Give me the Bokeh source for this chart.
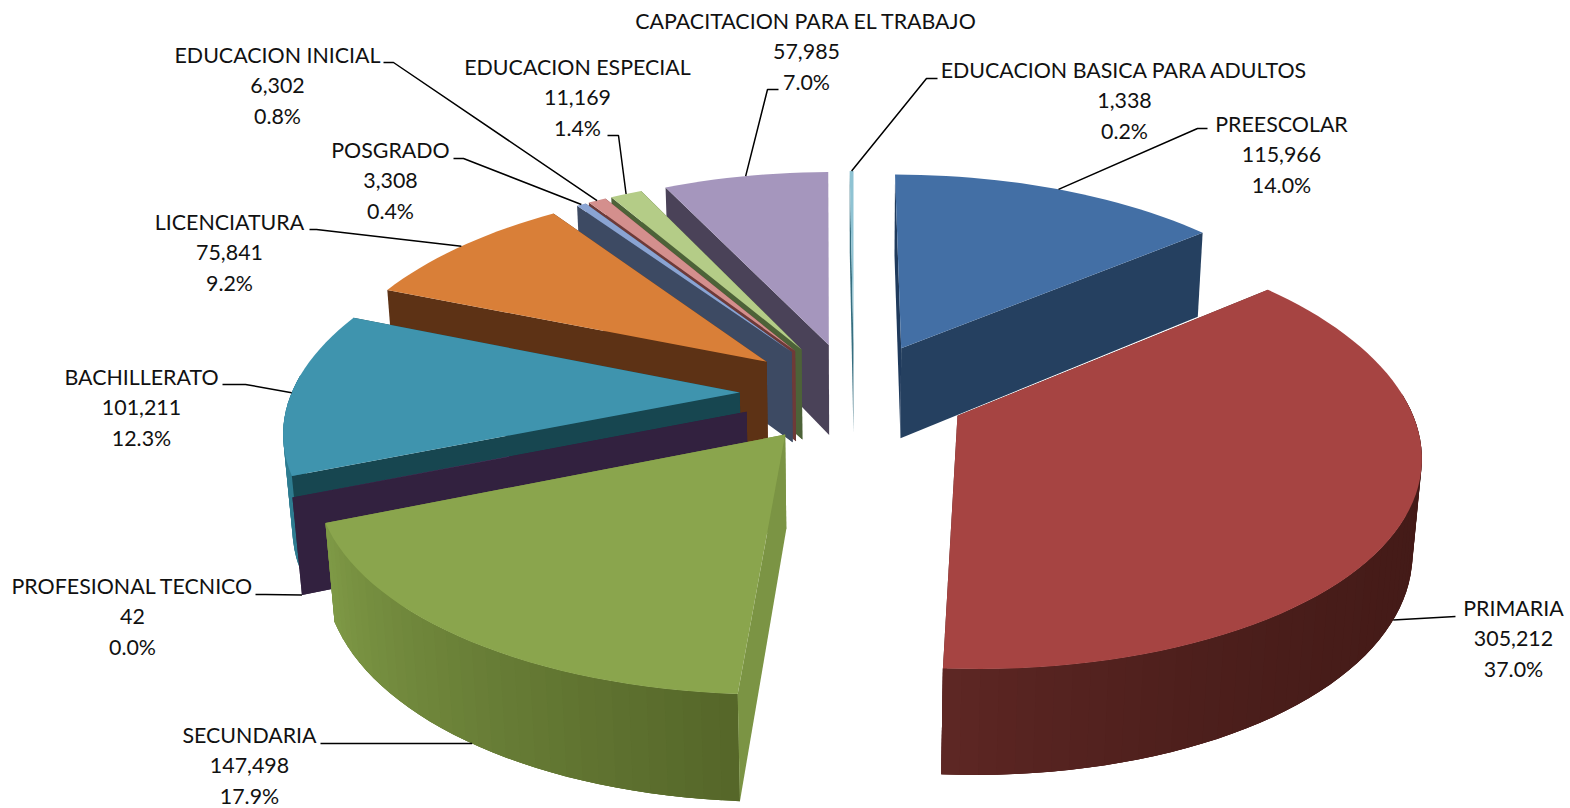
import numpy as np
from bokeh.plotting import figure
from bokeh.models import Range1d, ColumnDataSource
from bokeh.core.properties import value
from bokeh.embed import file_html
from bokeh.resources import INLINE

# ---- data ----
categories = ["PREESCOLAR", "PRIMARIA", "SECUNDARIA", "PROFESIONAL TECNICO", "BACHILLERATO",
              "LICENCIATURA", "POSGRADO", "EDUCACION INICIAL", "EDUCACION ESPECIAL",
              "CAPACITACION PARA EL TRABAJO", "EDUCACION BASICA PARA ADULTOS"]
values = [115966, 305212, 147498, 42, 101211, 75841, 3308, 6302, 11169, 57985, 1338]

# ---- styles ----
top_colors = ["#436FA5", "#A64442", "#8AA54D", "#6B5488", "#3F94AE", "#D97F38",
              "#8AA4D3", "#D48F8D", "#B4CC87", "#A596BD", "#8FC3D3"]
start_wall = ["#1F3A5C", "#5B2523", "#7B9444", "#32213F", "#174650", "#5D3215",
              "#3D4A63", "#6E3A38", "#4D6238", "#4A4258", "#366F80"]
end_wall = ["#254060", "#5B2523", "#7B9444", "#32213F", "#174650", "#5D3215",
            "#3D4A63", "#6E3A38", "#4D6238", "#4A4258", "#366F80"]
arc_start = ["#254060", "#431A17", "#556629", "#32213F", "#2E7C90", "#A85F28",
             "#3D4A63", "#6E3A38", "#4D6238", "#4A4258", "#366F80"]
arc_end = ["#254060", "#5E2724", "#7F9A46", "#32213F", "#2E7C90", "#A85F28",
           "#3D4A63", "#6E3A38", "#4D6238", "#4A4258", "#366F80"]
arc_power = [1, 4, 1, 1, 1, 1, 1, 1, 1, 1, 1]

# label centres (first line) and leader starts/elbows, page pixels
label_xy = [(1281, 123), (1513, 607), (249, 734), (132, 585), (141, 376), (229, 221),
            (390, 149), (277, 54), (577, 66), (806, 20), (1124, 69)]
leader_from = [[(1207, 128), (1197, 128)], [(1455, 616)], [(320, 743)],
               [(255, 594), (265, 594)], [(222, 384), (245, 384)], [(309, 229), (316, 229)],
               [(453, 158), (463, 158)], [(383, 62), (393, 62)], [(607, 135), (618, 135)],
               [(778, 89), (767, 89)], [(937, 78), (926, 78)]]

# projection
CX, CY = 853.5, 392.0
RX, RY = 448.0, 210.0
PKX, PK, DK = 0.155, 0.142, 0.016
DK_Y = 0.116
DEPTH = 92.3
EXPLODE_X, EXPLODE_Y = 0.255, 0.24
LINE_H = 30.5
FONT_PX = 21.4
W, H = 1570, 808


def proj(X, Y, bottom=False):
    X, Y = np.asarray(X, float), np.asarray(Y, float)
    wx = 1 + PKX * Y + (DK if bottom else 0)
    y = CY - RY * Y / (1 + PK * Y)
    if bottom:
        y = y + DEPTH / (1 + DK_Y * Y)
    return CX + RX * X / wx, y


def shade(c0, c1, t):
    a = np.array([int(c0[i:i + 2], 16) for i in (1, 3, 5)], float)
    b = np.array([int(c1[i:i + 2], 16) for i in (1, 3, 5)], float)
    m = a + (b - a) * t
    return "#%02x%02x%02x" % tuple(int(round(v)) for v in m)


p = figure(width=W, height=H, output_backend="svg", toolbar_location=None,
           x_range=Range1d(0, W), y_range=Range1d(H, 0), min_border=0)
p.axis.visible = False
p.grid.visible = False
p.outline_line_color = None
p.background_fill_color = "white"

vals = np.array(values, float)
total = vals.sum()
edges = np.concatenate([[0], np.cumsum(vals)]) / total * 2 * np.pi
mids = (edges[:-1] + edges[1:]) / 2
ax = EXPLODE_X * np.sin(mids)
ay = EXPLODE_Y * np.cos(mids)

xs, ys, cols = [], [], []


def add(px, py, c):
    xs.append(list(px))
    ys.append(list(py))
    cols.append(c)


for i in np.argsort(-ay):
    n = max(2, int((edges[i + 1] - edges[i]) / np.radians(2)) + 2)
    th = np.linspace(edges[i], edges[i + 1], n)
    X, Y = ax[i] + np.sin(th), ay[i] + np.cos(th)
    tx, ty = proj(X, Y)
    bx, by = proj(X, Y, True)
    atx, aty = proj(ax[i], ay[i])
    abx, aby = proj(ax[i], ay[i], True)
    # end wall, then the outer wall that faces the viewer, then start wall and top
    add([atx, tx[-1], bx[-1], abx], [aty, ty[-1], by[-1], aby], end_wall[i])
    front = np.where(np.cos(th) < 0.1)[0]
    if len(front) > 1:
        f = front
        add(np.r_[tx[f], bx[f][::-1]], np.r_[ty[f], by[f][::-1]], shade(arc_start[i], arc_end[i], .5))
        for k in f[:-1]:
            t = ((k + .5) / (n - 1)) ** arc_power[i]
            k2 = min(k + 2, f[-1])
            add([tx[k], tx[k2], bx[k2], bx[k]], [ty[k], ty[k2], by[k2], by[k]],
                shade(arc_start[i], arc_end[i], t))
    add([atx, tx[0], bx[0], abx], [aty, ty[0], by[0], aby], start_wall[i])
    add(np.r_[atx, tx], np.r_[aty, ty], top_colors[i])

p.patches(xs="xs", ys="ys", fill_color="cols", line_color=None,
          source=ColumnDataSource(dict(xs=xs, ys=ys, cols=cols)))

# leaders
lx, ly = [], []
for i in range(len(values)):
    X = ax[i] + np.sin(mids[i])
    Y = ay[i] + np.cos(mids[i])
    ex, ey = proj(X, Y, bool(np.cos(mids[i]) < -0.05))
    pts = leader_from[i]
    lx.append([q[0] for q in pts] + [float(ex)])
    ly.append([q[1] for q in pts] + [float(ey)])
p.multi_line(lx, ly, line_color="black", line_width=1.5)

# labels
tx, ty, tt = [], [], []
for i, name in enumerate(categories):
    lines = [name, f"{values[i]:,}", f"{values[i] / total * 100:.1f}%"]
    for j, s in enumerate(lines):
        tx.append(label_xy[i][0])
        ty.append(label_xy[i][1] + j * LINE_H)
        tt.append(s)
p.text(tx, ty, text=tt, text_font=value("Lato"), text_font_size=f"{FONT_PX}px",
       text_align="center", text_baseline="middle", text_color="#111111")

open("out.html", "w").write(file_html(p, INLINE))
